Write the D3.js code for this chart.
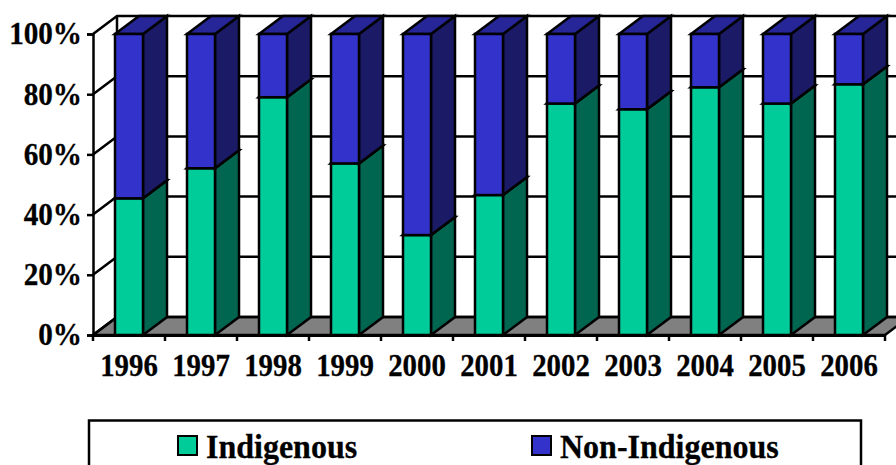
<!DOCTYPE html>
<html>
<head>
<meta charset="utf-8">
<script src="https://cdn.jsdelivr.net/npm/d3@7"></script>
<style>
  html, body { margin: 0; padding: 0; background: #fff; overflow: hidden; }
  text { font-family: "Liberation Serif", serif; font-weight: bold; fill: #000; stroke: #000; stroke-width: 0.3px; }
</style>
</head>
<body>
<div id="chart"></div>
<script>
var years = ["1996", "1997", "1998", "1999", "2000", "2001", "2002", "2003", "2004", "2005", "2006"];
var indigenous = [45.4, 55.4, 79, 57, 33.2, 46.5, 76.9, 75, 82.3, 76.9, 83.3];
var nonIndigenous = [54.6, 44.6, 21, 43, 66.8, 53.5, 23.1, 25, 17.7, 23.1, 16.7];
var yTicks = [0, 20, 40, 60, 80, 100];
var seriesNames = ["Indigenous", "Non-Indigenous"];

var width = 896;
var height = 465;
// 3d offset of the back wall
var depthX = 24;
var depthY = -18;

var faces = [
	{front: "#00cc99", side: "#006650", top: "#00cc99"},
	{front: "#3333cc", side: "#1a1a66", top: "#262699"}
];

var svg = d3.select("#chart")
	.append("svg")
	.attr("width", width)
	.attr("height", height);

var x = d3.scaleBand()
	.domain(years)
	.range([93, 885])
	.paddingInner(44 / 72)
	.paddingOuter(22 / 72);

var y = d3.scaleLinear()
	.domain([0, 100])
	.range([335, 34]);

function pts(list) {
	return list.map(function(p){ return p[0] + "," + p[1]; }).join(" ");
}

// the reference font is a bit taller than it is wide
function squeeze(sel, factor) {
	sel.each(function(){
		d3.select(this)
			.attr("textLength", this.getComputedTextLength() * factor)
			.attr("lengthAdjust", "spacingAndGlyphs");
	});
}

var x0 = x.range()[0];
var x1 = x.range()[1];

// floor
svg.append("polygon")
	.attr("points", pts([[x0, y(0)], [x1, y(0)], [x1 + depthX, y(0) + depthY], [x0 + depthX, y(0) + depthY]]))
	.attr("fill", "#808080")
	.attr("stroke", "#000")
	.attr("stroke-width", 2.5);

// gridlines, side wall then back wall
svg.append("g").selectAll("polyline")
	.data(yTicks)
	.enter()
	.append("polyline")
	.attr("fill", "none")
	.attr("stroke", "#000")
	.attr("stroke-width", 2.5)
	.attr("points", function(d){
		return pts([[x0, y(d)], [x0 + depthX, y(d) + depthY], [x1 + depthX, y(d) + depthY]]);
	});

svg.append("line")
	.attr("x1", x0 + depthX)
	.attr("x2", x0 + depthX)
	.attr("y1", y(0) + depthY)
	.attr("y2", y(100) + depthY)
	.attr("stroke", "#000")
	.attr("stroke-width", 2.5);

// stacked bars, each segment has front, top and side faces
function drawSegment(g, left, w, yLow, yHigh, c) {
	var right = left + w;
	g.append("polygon")
		.attr("points", pts([[right, yLow], [right + depthX, yLow + depthY], [right + depthX, yHigh + depthY], [right, yHigh]]))
		.attr("fill", c.side);
	g.append("polygon")
		.attr("points", pts([[left, yHigh], [right, yHigh], [right + depthX, yHigh + depthY], [left + depthX, yHigh + depthY]]))
		.attr("fill", c.top);
	g.append("rect")
		.attr("x", left)
		.attr("y", yHigh)
		.attr("width", w)
		.attr("height", yLow - yHigh)
		.attr("fill", c.front);
}

var bars = svg.selectAll(".bar")
	.data(years)
	.enter()
	.append("g")
	.attr("class", "bar")
	.attr("stroke", "#000")
	.attr("stroke-width", 2.5)
	.attr("stroke-linejoin", "miter");

bars.each(function(d, i){
	var g = d3.select(this);
	var left = x(d);
	var w = x.bandwidth();
	drawSegment(g, left, w, y(0), y(indigenous[i]), faces[0]);
	drawSegment(g, left, w, y(indigenous[i]), y(indigenous[i] + nonIndigenous[i]), faces[1]);
});

// y axis
var yAxis = svg.append("g")
	.attr("transform", "translate(" + x0 + ",0)")
	.call(d3.axisLeft(y).tickValues(yTicks).tickSize(6).tickPadding(5).tickFormat(function(d){ return d + "%"; }));
yAxis.selectAll("path, line").attr("stroke", "#000").attr("stroke-width", 2.5);
yAxis.selectAll("text").attr("font-size", 31).attr("font-family", null).call(squeeze, 0.94);

// x axis, labels from the band scale
var xAxis = svg.append("g")
	.attr("transform", "translate(0," + y(0) + ")")
	.call(d3.axisBottom(x).tickSize(0).tickPadding(19));
xAxis.selectAll("path").attr("stroke", "#000").attr("stroke-width", 3);
xAxis.selectAll("text").attr("font-size", 31).attr("font-family", null).call(squeeze, 0.93);

// tick marks sit between the categories
var boundaries = years.map(function(d){ return x(d) - x.step() * x.paddingOuter(); }).concat([x1]);
svg.append("g").selectAll("line")
	.data(boundaries)
	.enter()
	.append("line")
	.attr("x1", function(d){ return d; })
	.attr("x2", function(d){ return d; })
	.attr("y1", y(0))
	.attr("y2", y(0) + 6)
	.attr("stroke", "#000")
	.attr("stroke-width", 2.5);

// legend
svg.append("rect")
	.attr("x", 89)
	.attr("y", 420.5)
	.attr("width", 772)
	.attr("height", 60)
	.attr("fill", "#fff")
	.attr("stroke", "#000")
	.attr("stroke-width", 2.5);

var legendX = d3.scalePoint().domain(seriesNames).range([178, 532]);

var legend = svg.selectAll(".legend")
	.data(seriesNames)
	.enter()
	.append("g")
	.attr("class", "legend")
	.attr("transform", function(d){ return "translate(" + legendX(d) + ",0)"; });

legend.append("rect")
	.attr("y", 436)
	.attr("width", 19)
	.attr("height", 19)
	.attr("fill", function(d, i){ return faces[i].front; })
	.attr("stroke", "#000")
	.attr("stroke-width", 2);

legend.append("text")
	.attr("x", 28)
	.attr("y", 458)
	.attr("font-size", 33.5)
	.text(function(d){ return d; })
	.call(squeeze, 0.955);
</script>
</body>
</html>
